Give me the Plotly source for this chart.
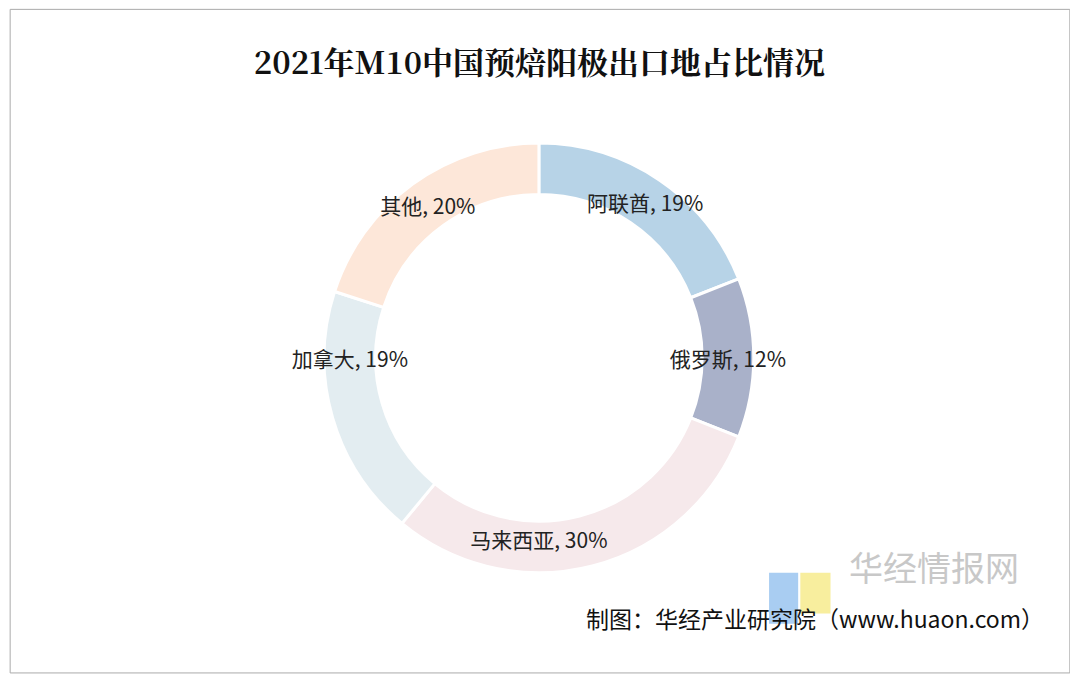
import plotly.graph_objects as go

labels = ["阿联酋", "俄罗斯", "马来西亚", "加拿大", "其他"]
values = [19, 12, 30, 19, 20]
colors = ["#b7d3e7", "#a9b1c9", "#f6e9eb", "#e3edf1", "#fde7d9"]

fig = go.Figure()
fig.add_trace(go.Pie(
    labels=labels, values=values, hole=0.76, sort=False, direction="clockwise",
    rotation=0, marker=dict(colors=colors, line=dict(color="white", width=3)),
    texttemplate="%{label}, %{value}%", textposition="inside", insidetextorientation="horizontal",
    textfont=dict(size=21, color="#222", family="Noto Sans CJK SC"),
    domain=dict(x=[0.293, 0.692], y=[0.172, 0.802]), showlegend=False,
))

fig.update_layout(
    width=1078, height=682, margin=dict(l=0, r=0, t=0, b=0),
    paper_bgcolor="white", plot_bgcolor="white",
    uniformtext=dict(minsize=20, mode="show"),
    title=dict(text="<b>2021年M10中国预焙阳极出口地占比情况</b>", x=0.493, y=0.935,
               font=dict(size=31, color="#111", family="Noto Serif CJK SC, serif")),
    shapes=[
        dict(type="rect", xref="paper", yref="paper", x0=0.002, x1=0.985, y0=0.025, y1=0.998,
             line=dict(color="#aaa", width=1)),
        dict(type="rect", xref="paper", yref="paper", x0=0.706, x1=0.733, y0=0.097, y1=0.172,
             fillcolor="#a9cdf2", line=dict(width=0)),
        dict(type="rect", xref="paper", yref="paper", x0=0.735, x1=0.763, y0=0.112, y1=0.172,
             fillcolor="#f8ee9e", line=dict(width=0)),
    ],
    annotations=[
        dict(text="华经情报网", xref="paper", yref="paper", x=0.778, y=0.142, xanchor="left",
             showarrow=False, font=dict(size=34, color="#c8c8c8", family="Noto Sans CJK SC")),
        dict(text="制图：华经产业研究院（www.huaon.com）", xref="paper", yref="paper", x=0.963, y=0.077,
             xanchor="right", showarrow=False, font=dict(size=23, color="#111", family="Noto Sans CJK SC")),
    ],
)

fig.write_html("out.html")
